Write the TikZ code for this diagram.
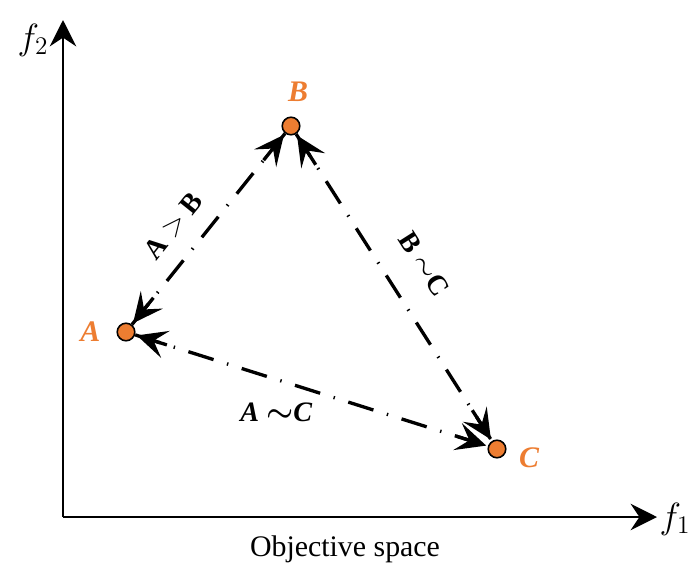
\documentclass[tikz,border=0pt]{standalone}
\usepackage{amsmath,amssymb,bm}
\usepackage{fontspec}
\setmainfont{Liberation Serif}
\usetikzlibrary{arrows.meta,positioning}
\definecolor{ptorange}{HTML}{ED7D31}

\begin{document}
\begin{tikzpicture}[x=0.02cm,y=-0.02cm,
  axis/.style={black, line width=1.7pt, -{Stealth[length=15pt,width=15pt,inset=5pt]}},
  relation/.style={black, line width=1.9pt, dash pattern=on 15pt off 8pt on 0.8pt off 8pt},
  tip/.style={black, line width=1.9pt, solid, -{Stealth[length=17pt,width=16pt,inset=7pt]}, shorten >=1pt},
  point/.style={circle, draw=black, line width=0.9pt, fill=ptorange, minimum size=10pt, inner sep=0pt},
  ptname/.style={text=ptorange, font=\fontsize{17}{20}\selectfont\bfseries\itshape, inner sep=1pt},
  rel/.style={font=\fontsize{16}{19}\selectfont\bfseries}]
  \useasboundingbox (0,0) rectangle (690,568);

  \coordinate (O) at (63,517);
  \coordinate (ytop) at (63,20);
  \coordinate (xend) at (657,517);
  \draw [axis] (O) -- (ytop);
  \draw [axis] (O) -- (xend);
  \node (f2) at (33,40) {\fontsize{20}{24}\selectfont$f_2$};
  \node (f1) at (675,519) {\fontsize{20}{24}\selectfont$f_1$};
  \node (space) at (345,549) {\fontsize{17}{20}\selectfont Objective space};

  \node [point] (A) at (126,332) {};
  \node [point] (B) at (291,126) {};
  \node [point] (C) at (497,449) {};
  \node [ptname, left=8pt of A] (nA) {A};
  \node [ptname, above=7pt of B, xshift=4pt] (nB) {B};
  \node [ptname, right=6pt of C, yshift=-5pt] (nC) {C};

  \draw [relation] (A) -- node [rel, pos=0.42, sloped, above=7pt] {A $>$ B} (B);
  \draw [relation] (B) -- node [rel, pos=0.49, sloped, above=12pt] {B $\sim$C} (C);
  \draw [relation] (A) -- node [rel, pos=0.4, below=9pt] {\itshape A $\boldsymbol{\sim}$C} (C);

  \path (A) -- coordinate [pos=0.14] (ab1) coordinate [pos=0.86] (ab2) (B);
  \path (B) -- coordinate [pos=0.1] (bc1) coordinate [pos=0.9] (bc2) (C);
  \path (A) -- coordinate [pos=0.09] (ac1) coordinate [pos=0.91] (ac2) (C);
  \draw [tip] (ab1) -- (A);
  \draw [tip] (ab2) -- (B);
  \draw [tip] (bc1) -- (B);
  \draw [tip] (bc2) -- (C);
  \draw [tip] (ac1) -- (A);
  \draw [tip] (ac2) -- (C);
\end{tikzpicture}
\end{document}
